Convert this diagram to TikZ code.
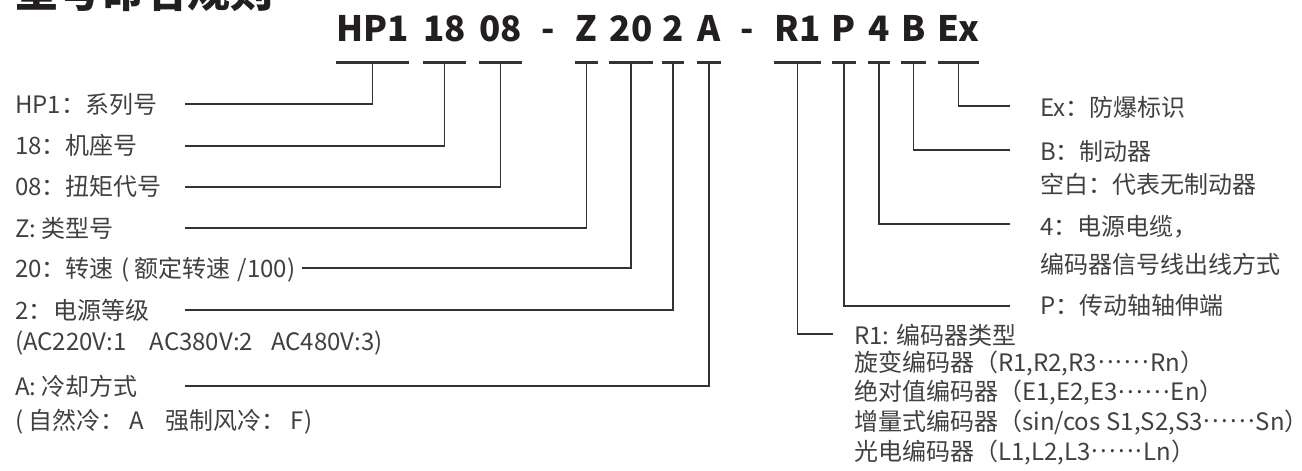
\documentclass[tikz,border=0pt]{standalone}
\usepackage{fontspec}
\setmainfont{Noto Sans CJK SC}
\definecolor{txt}{HTML}{404040}
\definecolor{ln}{HTML}{333333}
\definecolor{ttl}{HTML}{231F20}
\newcommand{\dotsmid}{\kern1pt\raisebox{0.3em}{.\kern2.2pt.\kern2.2pt.\kern2.2pt.\kern2.2pt.\kern2.2pt.}\kern1pt}
\begin{document}
\begin{tikzpicture}[x=1pt,y=-1pt,
  lbl/.style={anchor=base west,inner sep=0pt,text=txt,font=\fontsize{24}{24}\selectfont},
  code/.style={anchor=base,inner sep=0pt,text=ttl,font=\fontsize{35}{35}\selectfont\bfseries},
  bar/.style={draw=ln,line width=3pt},
  conn/.style={draw=ln,line width=1.8pt}]
\useasboundingbox (0,0) rectangle (1302,471);
% title (partially cut off at the top, as in the reference)
\node[anchor=base west,inner sep=0pt,text=ttl,font=\fontsize{43}{43}\selectfont\bfseries] (title) at (15,7) {型号命名规则};
% code parts
\node[code] (hp1) at (372.5,41) {HP1};
\node[code] (c18) at (444.5,41) {18};
\node[code] (c08) at (500.5,41) {08};
\node[code] (d1)  at (548,41) {-};
\node[code] (cz)  at (586.5,41) {Z};
\node[code] (c20) at (631,41) {20};
\node[code] (c2)  at (673,41) {2};
\node[code] (ca)  at (709,41) {A};
\node[code] (d2)  at (747,41) {-};
\node[code] (cr1) at (797.5,41) {R1};
\node[code] (cp)  at (844,41) {P};
\node[code] (c4)  at (879,41) {4};
\node[code] (cb)  at (913.5,41) {B};
\node[code] (cex) at (958.5,41) {Ex};
% bars and stem coordinates
\foreach \n in {hp1,c18,c08,cz,c20,c2,ca,cr1,cp,c4,cb,cex}{
  \draw[bar] ([yshift=-21pt]\n.base west) -- ([yshift=-21pt]\n.base east);
  \coordinate (s-\n) at ([yshift=-21pt]\n.base);
}
% left labels
\node[lbl] (l1) at (15,113) {HP1：系列号};
\node[lbl] (l2) at (15,154) {18：机座号};
\node[lbl] (l3) at (15,195) {08：扭矩代号};
\node[lbl] (l4) at (15,237) {Z: 类型号};
\node[lbl] (l5) at (15,277) {20：转速\hspace{8pt}(\hspace{5pt}额定转速\hspace{7pt}/100)};
\node[lbl] (l6) at (15,319) {2：\hspace{1pt}电源等级};
\node[lbl] (l6b) at (15,350) {(AC220V:1\hspace{23pt}AC380V:2\hspace{18pt}AC480V:3)};
\node[lbl] (l7) at (15,395) {A: 冷却方式};
\node[lbl] (l7b) at (15,429) {(\hspace{5pt}自然冷：\hspace{5pt}A\hspace{22pt}强制风冷：\hspace{5pt}F)};
\coordinate (e1) at (185,104);
\coordinate (e2) at (185,146);
\coordinate (e3) at (185,187);
\coordinate (e4) at (185,228);
\coordinate (e5) at (302,268);
\coordinate (e6) at (185,310);
\coordinate (e7) at (185,386);
\draw[conn] (e1) -| (s-hp1);
\draw[conn] (e2) -| (s-c18);
\draw[conn] (e3) -| (s-c08);
\draw[conn] (e4) -| (s-cz);
\draw[conn] (e5) -| (s-c20);
\draw[conn] (e6) -| (s-c2);
\draw[conn] (e7) -| (s-ca);
% right labels
\node[lbl] (rex) at (1040,116.5) {Ex：防爆标识};
\node[lbl] (rb) at (1040,160) {B：制动器};
\node[lbl] (rb2) at (1040,193) {空白：代表无制动器};
\node[lbl] (r4) at (1040,235) {4：电源电缆，};
\node[lbl] (r4b) at (1040,273) {编码器信号线出线方式};
\node[lbl] (rp) at (1040,314) {P：传动轴轴伸端};
\node[lbl] (rr1) at (854,344) {R1: 编码器类型};
\node[lbl] (rr2) at (854,371) {旋变编码器（R1,R2,R3\dotsmid Rn）};
\node[lbl] (rr3) at (854,400.5) {绝对值编码器（E1,E2,E3\dotsmid En）};
\node[lbl] (rr4) at (854,430) {增量式编码器（sin/cos\hspace{6pt}S1,S2,S3\dotsmid Sn）\kern-13pt};
\node[lbl] (rr5) at (854,460) {光电编码器（L1,L2,L3\dotsmid Ln）};
\coordinate (f1) at (1010,106);
\coordinate (f2) at (1010,150);
\coordinate (f3) at (1010,224);
\coordinate (f4) at (1010,306);
\coordinate (f5) at (833,334);
\draw[conn] (s-cex) |- (f1);
\draw[conn] (s-cb) |- (f2);
\draw[conn] (s-c4) |- (f3);
\draw[conn] (s-cp) |- (f4);
\draw[conn] (s-cr1) |- (f5);
\end{tikzpicture}
\end{document}
